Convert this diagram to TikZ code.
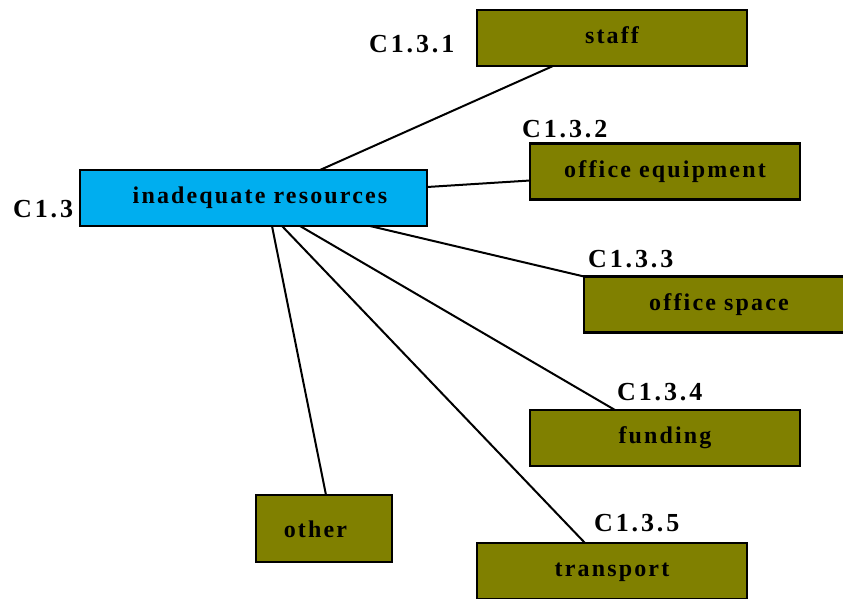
\documentclass[tikz,border=0pt]{standalone}
\usepackage{fontspec}
\usetikzlibrary{calc}
\newfontfamily\boxfont{Liberation Serif}[LetterSpace=9]
\newfontfamily\codefont{Liberation Serif}[LetterSpace=11]
\definecolor{causeblue}{HTML}{00AEEF}
\definecolor{causeolive}{HTML}{808000}
\tikzset{
  box/.style={draw=black, line width=2.3pt, inner sep=0pt, outer sep=0pt,
    minimum width=270pt, minimum height=56pt,
    font=\boxfont\bfseries\fontsize{24}{24}\selectfont,
    text height=16pt, text depth=5pt},
  subbox/.style={box, fill=causeolive},
  mainbox/.style={box, fill=causeblue, minimum width=347pt},
  code/.style={anchor=base west, inner sep=0pt,
    font=\codefont\bfseries\fontsize{26}{26}\selectfont},
  link/.style={line width=2pt, line cap=round}
}
\begin{document}
\begin{tikzpicture}[x=1pt, y=-1pt]
\useasboundingbox (0,0) rectangle (843,598);
% main cause
\node[mainbox] (ir) at (253.5,198) {\kern13pt inadequate resources};
% sub-causes
\node[subbox] (staff) at (612,38) {staff};
\node[subbox] (equip) at (665,171.5) {office equipment};
\node[subbox] (space) at (719,304.5) {office space};
\node[subbox] (fund) at (665,438) {funding};
\node[subbox] (trans) at (612,571) {transport};
\node[subbox, minimum width=136pt, minimum height=67pt] (other) at (324,528.5) {\raisebox{-3pt}{other}\kern17pt};
% codes
\node[code] (c13) at (13,217) {C1.3};
\node[code] (c131) at (369,52) {C1.3.1};
\node[code] (c132) at (522,137) {C1.3.2};
\node[code] (c133) at (588,267) {C1.3.3};
\node[code] (c134) at (617,400) {C1.3.4};
\node[code] (c135) at (594,531) {C1.3.5};
% connectors
\draw[link] ($(ir.north west)+(240,0)$) -- ($(staff.south west)+(76,0)$);
\draw[link] ($(ir.north east)+(0,17)$) -- ($(equip.north west)+(0,37)$);
\draw[link] ($(ir.south west)+(290,0)$) -- (space.north west);
\draw[link] ($(ir.south west)+(220,0)$) -- ($(fund.north west)+(85,0)$);
\draw[link] ($(ir.south west)+(202,0)$) -- ($(trans.north west)+(108,0)$);
\draw[link] ($(ir.south west)+(192,0)$) -- ($(other.north west)+(70,0)$);
\end{tikzpicture}
\end{document}
